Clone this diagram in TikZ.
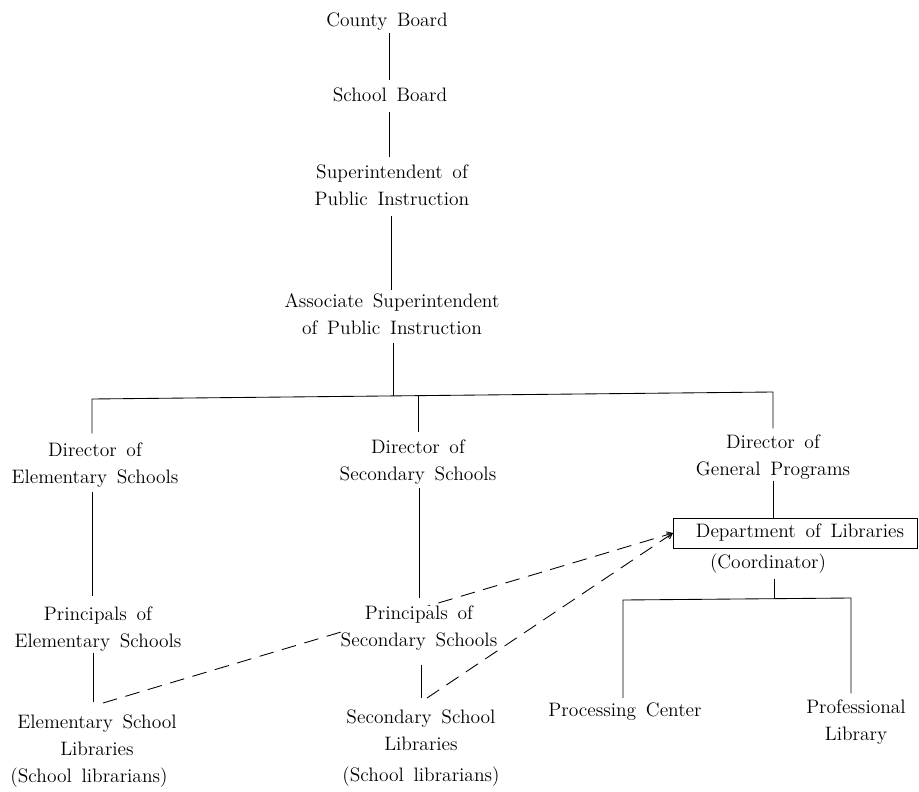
\documentclass[tikz,border=0pt]{standalone}
\usetikzlibrary{arrows.meta,backgrounds}
\newcommand{\chartfont}{\fontsize{14.6}{20.25}\selectfont\spaceskip=0.5em plus 0.1em minus 0.05em}
\begin{document}
\begin{tikzpicture}[x=0.75pt,y=-0.75pt,
  every node/.style={font=\chartfont, align=center, inner sep=0pt},
  unit/.style={},
  masked/.style={fill=white},
  boxed/.style={draw, line width=0.65pt, minimum width=183pt, minimum height=22.5pt, inner sep=0pt},
  link/.style={line width=0.65pt},
  gap/.style 2 args={shorten <=#1*0.75pt, shorten >=#2*0.75pt},
  dotlink/.style={line width=0.65pt, dash pattern=on 11pt off 6.5pt, -{Straight Barb[length=4pt,width=4.5pt]}},
]
\useasboundingbox (0,0) rectangle (919,791);

% upper chain of command
\node[unit] (cb)    at (387,22)    {County Board};
\node[unit] (sb)    at (390,95)    {School Board};
\node[unit] (sup)   at (392,185.5) {Superintendent of\\Public Instruction};
\node[unit] (assoc) at (392,314)   {Associate Superintendent\\of Public Instruction};

% directors
\node[unit] (dirE) at (95,465)  {Director of\\Elementary Schools};
\node[unit] (dirS) at (418,462) {Director of\\Secondary Schools};
\node[unit] (dirG) at (773,457) {Director of\\General Programs};

% schools
\node[unit] (prinE) at (98,629)  {Principals of\\Elementary Schools};
\node[unit, masked] (prinS) at (419,628) {Principals of\\Secondary Schools};
\node[unit] (libE)  at (97,751)  {Elementary School\\Libraries\\(School librarians)\hspace*{12pt}};
\node[unit] (libS)  at (421,748) {Secondary School\\Libraries\\[3pt](School librarians)};

% library department
\node[boxed] (dept)  at (795.5,533) {\hspace*{6.75pt}Department of Libraries};
\node[unit]  (coord) at (768,563.5) {(Coordinator)};
\node[unit]  (proc)  at (625,712)   {Processing Center};
\node[unit]  (prof)  at (856,722)   {Professional\\Library};

% x positions of the vertical runs
\coordinate (tA) at (389,0);
\coordinate (tB) at (391,0);
\coordinate (tC) at (393,0);
\coordinate (xE) at (92,0);
\coordinate (xE2) at (93,0);
\coordinate (xS) at (419,0);
\coordinate (xS2) at (421,0);

% junction points of the branching lines
\coordinate (barL) at (92,399);
\coordinate (barM) at (418,395.6);
\coordinate (barC) at (393,395.9);
\coordinate (barR) at (773,392);
\coordinate (libL) at (623,600);
\coordinate (libC) at (774,599);
\coordinate (libR) at (851,598);
\coordinate (eEnd) at (103,703);
\coordinate (sEnd) at (427,698);

% vertical trunk
\draw[link, gap={2}{8}]  (cb.south -| tA) -- (sb.north -| tA);
\draw[link, gap={10}{8}] (sb.south -| tA) -- (sup.north -| tA);
\draw[link, gap={10}{3}] (sup.south -| tB) -- (assoc.north -| tB);
\draw[link, gap={8}{0}]  (assoc.south -| tC) -- (barC);

% branch to the three directors
\draw[link, shorten <=9*0.75pt] (dirE.north -| barL) -- (barL) -- (barR) -- (dirG.north -| barR) [shorten >=6*0.75pt];
\draw[link, gap={0}{7}] (barM) -- (dirS.north -| barM);

% elementary line
\draw[link, gap={4}{10}] (dirE.south -| xE) -- (prinE.north -| xE);
\draw[link, gap={1}{12}] (prinE.south -| xE2) -- (libE.north -| xE2);

% secondary line
\draw[link, gap={3}{7}]   (dirS.south -| xS) -- (prinS.north -| xS);
\draw[link, gap={14}{11}] (prinS.south -| xS2) -- (libS.north -| xS2);

% general programs line
\draw[link, gap={1}{0}] (dirG.south -| barR) -- (dept.north -| barR);
\draw[link, gap={5}{0}] (coord.south -| libC) -- (libC);
\draw[link, gap={5}{6}] (proc.north -| libL) -- (libL) -- (libR) -- (prof.north -| libR);

% coordination links to the department, passing behind the secondary principals
\begin{pgfonlayer}{background}
\draw[dotlink] (eEnd) -- (dept.west);
\draw[dotlink] (sEnd) -- (dept.west);
\end{pgfonlayer}
\end{tikzpicture}
\end{document}
